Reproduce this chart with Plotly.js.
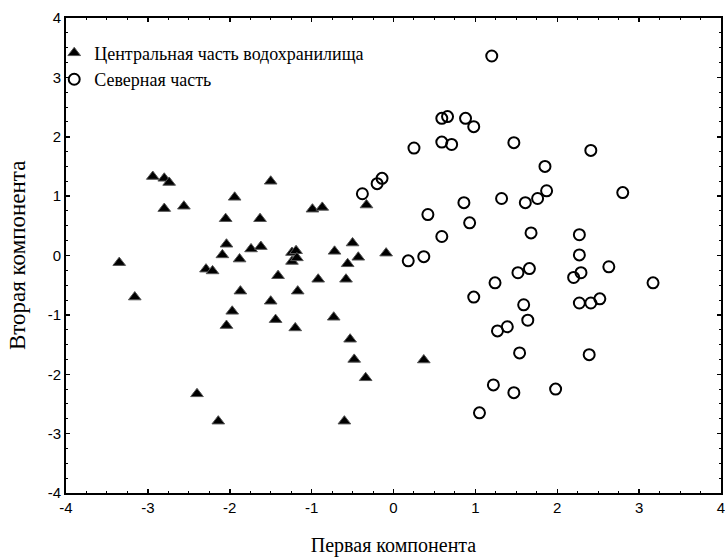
<!DOCTYPE html>
<html>
<head>
<meta charset="utf-8">
<script src="https://cdn.plot.ly/plotly-3.0.1.min.js"></script>
<style>html,body{margin:0;padding:0;background:#fff;}#chart{width:725px;height:557px;}</style>
</head>
<body>
<div id="chart"></div>
<script>
// Центральная часть водохранилища (triangles)
const centralX = [-3.35,-3.16,-2.94,-2.80,-2.74,-2.80,-2.56,-2.40,-2.29,-2.21,-2.14,-2.09,-2.05,-2.04,-2.04,-1.97,-1.94,-1.88,-1.87,-1.74,-1.63,-1.62,-1.50,-1.50,-1.44,-1.41,-1.24,-1.19,-1.24,-1.18,-1.17,-1.20,-0.99,-0.92,-0.87,-0.73,-0.72,-0.60,-0.58,-0.56,-0.53,-0.50,-0.48,-0.43,-0.34,-0.33,-0.09,0.37];
const centralY = [-0.12,-0.70,1.33,1.30,1.23,0.79,0.83,-2.33,-0.23,-0.26,-2.79,0.01,0.62,0.19,-1.18,-0.94,0.98,-0.06,-0.60,0.11,0.62,0.15,1.25,-0.77,-1.08,-0.34,0.05,0.08,-0.10,-0.04,-0.60,-1.22,0.78,-0.40,0.81,-1.04,0.07,-2.79,-0.40,-0.14,-1.41,0.21,-1.75,-0.03,-2.06,0.85,0.04,-1.76];
// Северная часть (circles)
const northX = [-0.38,-0.20,-0.14,0.18,0.25,0.37,0.42,0.59,0.59,0.59,0.66,0.71,0.86,0.88,0.93,0.98,0.98,1.05,1.20,1.22,1.24,1.27,1.32,1.39,1.47,1.47,1.52,1.54,1.59,1.61,1.64,1.66,1.68,1.76,1.85,1.87,1.98,2.20,2.27,2.27,2.27,2.29,2.39,2.41,2.41,2.52,2.63,2.80,3.17];
const northY = [1.04,1.21,1.30,-0.09,1.81,-0.02,0.69,2.31,1.91,0.32,2.34,1.87,0.89,2.31,0.55,2.17,-0.70,-2.65,3.36,-2.18,-0.46,-1.27,0.96,-1.20,1.90,-2.31,-0.29,-1.64,-0.83,0.89,-1.09,-0.22,0.38,0.96,1.50,1.09,-2.25,-0.37,0.35,0.01,-0.80,-0.29,-1.67,1.77,-0.80,-0.73,-0.19,1.06,-0.46];
const seriesNames = ["Центральная часть водохранилища", "Северная часть"];
const xTickVals = [-4,-3,-2,-1,0,1,2,3,4];
const yTickVals = [-4,-3,-2,-1,0,1,2,3,4];
const xTitle = "Первая компонента";
const yTitle = "Вторая компонента";

const serif = "Liberation Serif, Times New Roman, serif";
const traces = [
  {x: centralX, y: centralY, name: seriesNames[0], type: "scatter", mode: "markers",
   marker: {symbol: "triangle-up", size: 11, color: "#000", line: {color: "#555", width: 1}}},
  {x: northX, y: northY, name: seriesNames[1], type: "scatter", mode: "markers",
   marker: {symbol: "circle-open", size: 11, color: "#000", line: {color: "#000", width: 2}}}
];

const axisCommon = {
  showgrid: false, zeroline: false, showline: true, linecolor: "#000", linewidth: 2,
  mirror: "allticks", ticks: "inside", ticklen: 4, tickwidth: 1.5, tickcolor: "#000",
  minor: {dtick: 0.25, ticks: "inside", ticklen: 2, tickwidth: 1, tickcolor: "#000"},
  ticklabeloverflow: "allow",
  tickfont: {family: "Liberation Sans, Arial, sans-serif", size: 15, color: "#000"}
};

const layout = {
  width: 725, height: 557,
  margin: {l: 66, r: 4, t: 18, b: 64},
  paper_bgcolor: "#fff", plot_bgcolor: "#fff",
  showlegend: true,
  legend: {x: -0.018, y: 0.965, xanchor: "left", yanchor: "top", bgcolor: "rgba(0,0,0,0)",
           font: {family: serif, size: 18, color: "#000"}, itemwidth: 30},
  xaxis: Object.assign({}, axisCommon, {
    range: [-4, 4], tickvals: xTickVals, ticktext: xTickVals.map(String),
    title: {text: xTitle, standoff: 33,
            font: {family: serif, size: 20, color: "#000"}}
  }),
  yaxis: Object.assign({}, axisCommon, {
    range: [-4, 4], tickvals: yTickVals, ticktext: yTickVals.map(String)
  }),
  annotations: [{
    text: yTitle, xref: "paper", yref: "paper", x: -0.074, y: 0.5,
    xanchor: "center", yanchor: "middle", textangle: -90, showarrow: false,
    font: {family: serif, size: 23, color: "#000"}
  }]
};

Plotly.newPlot("chart", traces, layout, {displayModeBar: false, staticPlot: true});
</script>
</body>
</html>
